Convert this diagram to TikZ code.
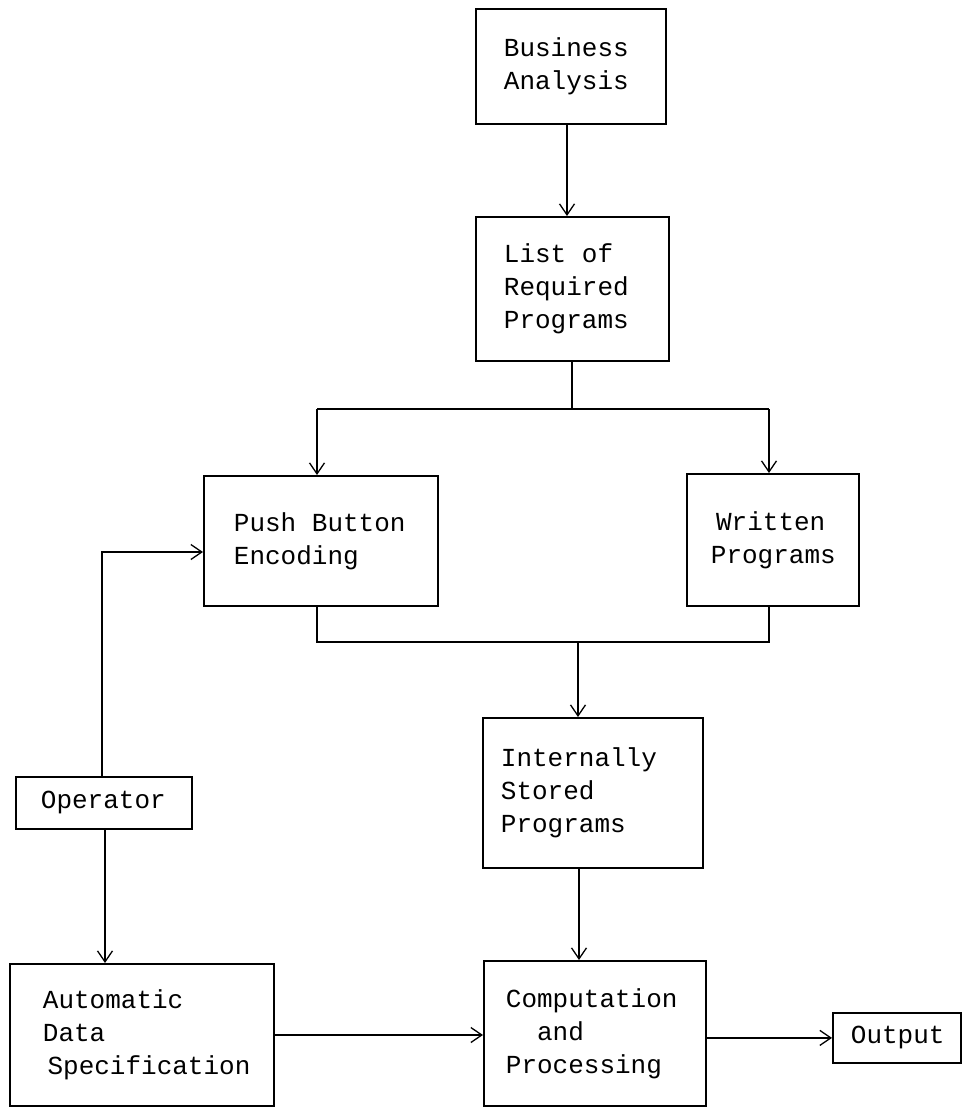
\documentclass[tikz,border=0pt]{standalone}
\usepackage{fontspec}
\setmainfont{Liberation Mono}
\usetikzlibrary{arrows.meta}
\protected\def\boxfont{\fontsize{26}{33}\selectfont}
\newcommand\monosp{\hspace*{0.6em}}
\begin{document}
\begin{tikzpicture}[x=1pt,y=-1pt,
  box/.style={draw, line width=1.8pt, anchor=north west, align=left,
    font=\boxfont, inner ysep=0pt},
  conn/.style={line width=1.4pt},
  arr/.style={conn, -{Straight Barb[length=11pt,width=15pt,line width=1.3pt]}}]
\useasboundingbox[fill=white] (0,0) rectangle (964,1110);
% boxes
\node[box, inner xsep=28pt, text width=134pt, minimum height=115pt] (ba) at (475,8) {Business\\Analysis};
\node[box, inner xsep=28pt, text width=137pt, minimum height=144pt] (lr) at (475,216) {List\monosp{}of\\Required\\Programs};
\node[box, inner xsep=30pt, text width=174pt, minimum height=130pt] (pb) at (203,475) {Push\monosp{}Button\\Encoding};
\node[box, inner xsep=24pt, text width=124pt, minimum height=132pt] (wp) at (686,473) {\hspace*{0.2em}Written\\Programs};
\node[box, inner xsep=18pt, text width=184pt, minimum height=150pt] (isp) at (482,717) {Internally\\Stored\\Programs};
\node[box, inner xsep=25pt, text width=126pt, minimum height=52pt] (op) at (15,776) {Operator};
\node[box, inner xsep=33pt, text width=198pt, minimum height=142pt] (ads) at (9,963) {Automatic\\Data\\\hspace*{0.18em}\mbox{Specification}};
\node[box, inner xsep=22pt, text width=178pt, minimum height=145pt] (cp) at (483,960) {Computation\\\hspace*{1.2em}and\\Processing};
\node[box, inner xsep=18pt, text width=92pt, minimum height=50pt] (out) at (832,1012) {Output};
% helper coordinates
\coordinate (c1) at (567,0);
\coordinate (split) at (572,409);
\coordinate (bl) at (317,409);
\coordinate (br) at (769,409);
\coordinate (ml) at (317,642);
\coordinate (mr) at (769,642);
\coordinate (mm) at (578,642);
\coordinate (oc) at (102,552);
\coordinate (od) at (105,0);
\coordinate (ic) at (579,0);
\coordinate (ay) at (0,1035);
% connectors
\draw[arr] (ba.south -| c1) -- (lr.north -| c1);
\draw[conn] (lr.south -| split) -- (split);
\draw[conn] (bl) -- (br);
\draw[arr] (bl) -- (pb.north -| bl);
\draw[arr] (br) -- (wp.north -| br);
\draw[conn] (pb.south -| ml) -- (ml) -- (mr) -- (wp.south -| mr);
\draw[arr] (mm) -- (isp.north -| mm);
\draw[arr] (op.north -| oc) -- (oc) -- (pb.west |- oc);
\draw[arr] (op.south -| od) -- (ads.north -| od);
\draw[arr] (isp.south -| ic) -- (cp.north -| ic);
\draw[arr] (ads.east |- ay) -- (cp.west |- ay);
\draw[arr] (cp.east |- out.west) -- (out.west);
\end{tikzpicture}
\end{document}
